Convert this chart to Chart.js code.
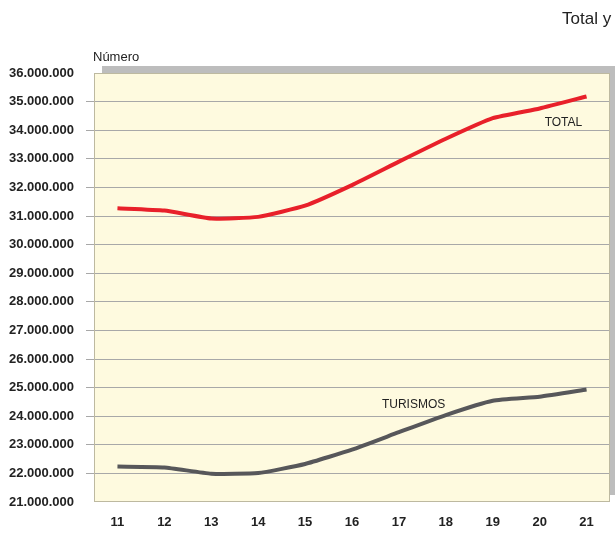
<!DOCTYPE html>
<html><head><meta charset="utf-8">
<script src="https://cdn.jsdelivr.net/npm/chart.js@4/dist/chart.umd.min.js"></script>
<style>
html,body{margin:0;padding:0;background:#fff;overflow:hidden;width:615px;height:534px;}
#wrap{position:relative;width:615px;height:534px;overflow:hidden;}
#title{position:absolute;left:562px;top:9px;font:17px "Liberation Sans",Arial,sans-serif;color:#222;white-space:nowrap;}
canvas{position:absolute;left:0;top:0;}
</style></head>
<body><div id="wrap"><canvas id="c" width="615" height="534"></canvas><div id="title">Total y turismos</div></div>
<script>
const categories = ["11","12","13","14","15","16","17","18","19","20","21"];
const totalValues = [31270000,31190000,30910000,30970000,31360000,32080000,32900000,33700000,34420000,34760000,35180000];
const turismosValues = [22240000,22210000,21990000,22010000,22330000,22830000,23440000,24040000,24540000,24680000,24930000];
const yMin = 21000000, yMax = 36000000, yStep = 1000000;
const seriesLabels = ["TOTAL","TURISMOS"];

const fmt = v => Math.round(v).toString().replace(/\B(?=(\d{3})+(?!\d))/g, ".");

const bgPlugin = {
  id:'bg',
  beforeDraw(chart){
    const {ctx, chartArea:a} = chart;
    ctx.save();
    ctx.fillStyle = '#bdbdbd';
    ctx.fillRect(a.left+8, a.top-7, a.right-a.left, a.bottom-a.top);
    ctx.fillStyle = '#fefadf';
    ctx.fillRect(a.left, a.top, a.right-a.left, a.bottom-a.top);
    ctx.restore();
  },
  afterDraw(chart){
    const {ctx, chartArea:a} = chart;
    ctx.save();
    ctx.strokeStyle = '#bdb9a0';
    ctx.lineWidth = 1;
    ctx.strokeRect(a.left+0.5, a.top+0.5, a.right-a.left-1, a.bottom-a.top-1);
    ctx.fillStyle = '#222';
    ctx.font = '13px "Liberation Sans", Arial, sans-serif';
    ctx.textBaseline = 'bottom';
    ctx.textAlign = 'left';
    ctx.fillText('Número', a.left-1, a.top-9);
    ctx.font = '12px "Liberation Sans", Arial, sans-serif';
    ctx.textBaseline = 'middle';
    const xs = chart.scales.x, ys = chart.scales.y;
    ctx.fillText(seriesLabels[0], xs.getPixelForValue(9)+5, ys.getPixelForValue(34270000));
    ctx.fillText(seriesLabels[1], xs.getPixelForValue(6)-17, ys.getPixelForValue(24400000));
    ctx.restore();
  }
};

new Chart(document.getElementById('c'), {
  type:'line',
  data:{
    labels: categories,
    datasets:[
      {label:seriesLabels[0], data: totalValues, borderColor:'#e8202a', borderWidth:4, pointRadius:0, tension:0.15, borderJoinStyle:'round'},
      {label:seriesLabels[1], data: turismosValues, borderColor:'#57575a', borderWidth:4, pointRadius:0, tension:0.15, borderJoinStyle:'round'}
    ]
  },
  options:{
    responsive:false, animation:false,
    layout:{padding:{top:73,right:5,left:0,bottom:0}},
    plugins:{legend:{display:false}, tooltip:{enabled:false}},
    scales:{
      x:{
        offset:true,
        grid:{display:false, drawTicks:false},
        border:{display:false},
        ticks:{padding:13, color:'#222', font:{family:'"Liberation Sans", Arial, sans-serif', size:13, weight:'bold'}},
        afterFit(s){ s.height = 32; }
      },
      y:{
        min:yMin, max:yMax,
        grid:{
          color:(c)=> (c.tick && (c.tick.value===yMin || c.tick.value===yMax)) ? 'rgba(0,0,0,0)' : '#a8a8a8',
          tickLength:8, lineWidth:1
        },
        border:{display:false},
        ticks:{stepSize:yStep, padding:12, color:'#222', callback:v=>fmt(v), font:{family:'"Liberation Sans", Arial, sans-serif', size:13, weight:'bold'}},
        afterFit(s){ s.width = 94; }
      }
    }
  },
  plugins:[bgPlugin]
});
</script>
</body></html>
